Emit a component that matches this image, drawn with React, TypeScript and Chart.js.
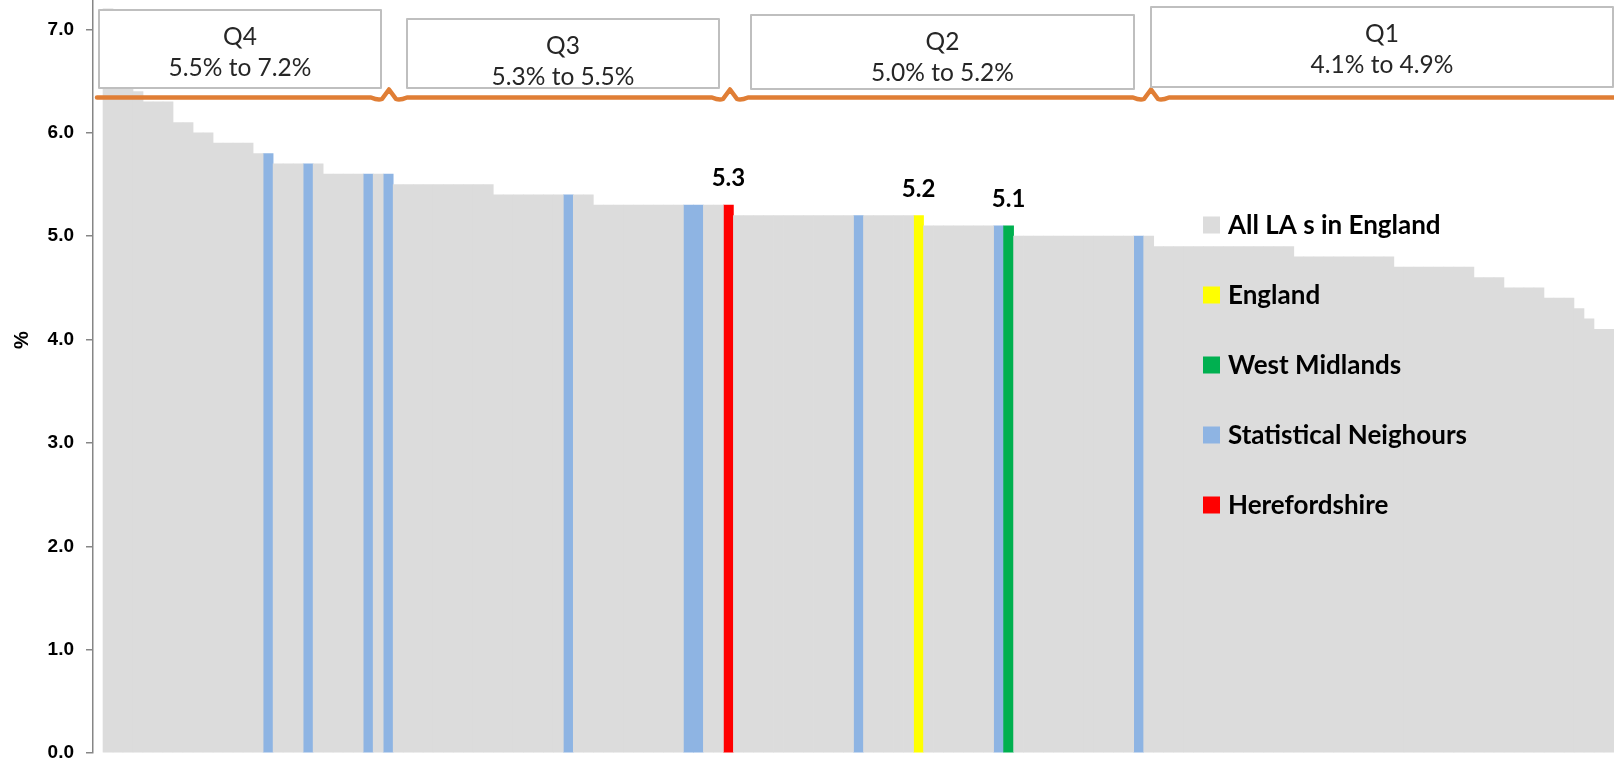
import React, { useEffect, useRef } from 'react';
import { Chart, registerables } from 'chart.js';

Chart.register(...registerables);

// ---------- DATA ----------
// Rate (%) for every local authority in England, sorted high to low (rank 1 .. 151).
const laValues: number[] = [
  7.2, 6.7, 6.5, 6.4, 6.3, 6.3, 6.3, 6.1, 6.1, 6.0,
  6.0, 5.9, 5.9, 5.9, 5.9, 5.8, 5.8, 5.7, 5.7, 5.7,
  5.7, 5.7, 5.6, 5.6, 5.6, 5.6, 5.6, 5.6, 5.6, 5.5,
  5.5, 5.5, 5.5, 5.5, 5.5, 5.5, 5.5, 5.5, 5.5, 5.4,
  5.4, 5.4, 5.4, 5.4, 5.4, 5.4, 5.4, 5.4, 5.4, 5.3,
  5.3, 5.3, 5.3, 5.3, 5.3, 5.3, 5.3, 5.3, 5.3, 5.3,
  5.3, 5.3, 5.3, 5.2, 5.2, 5.2, 5.2, 5.2, 5.2, 5.2,
  5.2, 5.2, 5.2, 5.2, 5.2, 5.2, 5.2, 5.2, 5.2, 5.2,
  5.2, 5.2, 5.1, 5.1, 5.1, 5.1, 5.1, 5.1, 5.1, 5.1,
  5.1, 5.0, 5.0, 5.0, 5.0, 5.0, 5.0, 5.0, 5.0, 5.0,
  5.0, 5.0, 5.0, 5.0, 5.0, 4.9, 4.9, 4.9, 4.9, 4.9,
  4.9, 4.9, 4.9, 4.9, 4.9, 4.9, 4.9, 4.9, 4.9, 4.8,
  4.8, 4.8, 4.8, 4.8, 4.8, 4.8, 4.8, 4.8, 4.8, 4.7,
  4.7, 4.7, 4.7, 4.7, 4.7, 4.7, 4.7, 4.6, 4.6, 4.6,
  4.5, 4.5, 4.5, 4.5, 4.4, 4.4, 4.4, 4.3, 4.2, 4.1,
  4.1,
];

// Ranks (1-based position in laValues) of highlighted bars
const statNeighbourRanks: number[] = [17, 21, 27, 29, 47, 59, 60, 76, 90, 104];
const englandRanks: number[] = [82];
const westMidlandsRanks: number[] = [91];
const herefordshireRanks: number[] = [63];

const seriesNames: string[] = [
  'All LA s in England',
  'England',
  'West Midlands',
  'Statistical Neighours',
  'Herefordshire',
];

const quartileNames: string[] = ['Q4', 'Q3', 'Q2', 'Q1'];
const quartileRanges: string[] = ['5.5% to 7.2%', '5.3% to 5.5%', '5.0% to 5.2%', '4.1% to 4.9%'];

const yTicks: number[] = [0, 1, 2, 3, 4, 5, 6, 7];

// ---------- STYLE / LAYOUT ----------
const COLORS = ['#DCDCDC', '#FFFF00', '#00B050', '#8EB4E3', '#FF0000'];
const LABELLED = [1, 2, 4]; // datasets showing value labels
const BOXES = [
  { x: 99, y: 10, w: 282, h: 78 },
  { x: 407, y: 19, w: 312, h: 69 },
  { x: 751, y: 15, w: 383, h: 74 },
  { x: 1151, y: 7, w: 462, h: 80 },
];
const BUMPS = [389, 730, 1151];
const FONT = '"Lato", "Open Sans", sans-serif';
const AXFONT = '"Liberation Sans", Arial, sans-serif';

// table for the library: a leading blank category, then every LA
const labels: string[] = [''].concat(laValues.map((_, i) => String(i + 1)));
const allData: (number | null)[] = [null as number | null].concat(laValues);
const highlighted = [...statNeighbourRanks, ...englandRanks, ...westMidlandsRanks, ...herefordshireRanks];
const pick = (ranks: number[]) => allData.map((v, i) => (ranks.includes(i) ? v : null));
const grayData = allData.map((v, i) => (highlighted.includes(i) ? null : v));

const overlay = {
  id: 'overlay',
  afterDatasetsDraw(chart: any) {
    const ctx: CanvasRenderingContext2D = chart.ctx;
    ctx.save();

    // value labels
    LABELLED.forEach((di) => {
      const meta = chart.getDatasetMeta(di);
      const data = chart.data.datasets[di].data;
      meta.data.forEach((el: any, i: number) => {
        const v = data[i];
        if (v == null) return;
        ctx.font = `bold 24px ${FONT}`;
        ctx.fillStyle = '#000';
        ctx.textAlign = 'center';
        ctx.textBaseline = 'alphabetic';
        ctx.fillText(Number(v).toFixed(1), el.x, el.y - 19);
      });
    });

    // orange bracket line
    const ly = 97.5;
    ctx.strokeStyle = '#E07E35';
    ctx.lineWidth = 4.5;
    ctx.lineJoin = 'round';
    ctx.lineCap = 'round';
    ctx.beginPath();
    ctx.moveTo(97, ly);
    BUMPS.forEach((px) => {
      ctx.lineTo(px - 18, ly);
      ctx.quadraticCurveTo(px - 11, ly + 3, px - 7, ly + 1.5);
      ctx.lineTo(px, ly - 8);
      ctx.lineTo(px + 7, ly + 1.5);
      ctx.quadraticCurveTo(px + 11, ly + 3, px + 18, ly);
    });
    ctx.lineTo(1620, ly);
    ctx.stroke();

    // quartile boxes
    BOXES.forEach((b, i) => {
      ctx.fillStyle = '#FFFFFF';
      ctx.fillRect(b.x, b.y, b.w, b.h);
      ctx.strokeStyle = '#BFBFBF';
      ctx.lineWidth = 2;
      ctx.strokeRect(b.x, b.y, b.w, b.h);
      ctx.fillStyle = '#262626';
      ctx.font = `24.5px ${FONT}`;
      ctx.textAlign = 'center';
      ctx.textBaseline = 'middle';
      const cx = b.x + b.w / 2;
      ctx.fillText(quartileNames[i], cx, b.y + 27);
      ctx.fillText(quartileRanges[i], cx, b.y + 58.5);
    });

    // legend
    chart.data.datasets.forEach((ds: any, i: number) => {
      const cy = 225 + i * 70;
      ctx.fillStyle = ds.backgroundColor;
      ctx.fillRect(1203, cy - 8.5, 17, 17);
      ctx.fillStyle = '#000';
      ctx.font = `bold 26px ${FONT}`;
      ctx.textAlign = 'left';
      ctx.textBaseline = 'middle';
      ctx.fillText(ds.label, 1228, cy + 1);
    });

    // y axis title
    ctx.save();
    ctx.translate(22, 340);
    ctx.rotate(-Math.PI / 2);
    ctx.font = `bold 20px ${AXFONT}`;
    ctx.fillStyle = '#000';
    ctx.textAlign = 'center';
    ctx.textBaseline = 'middle';
    ctx.fillText('%', 0, 0);
    ctx.restore();

    ctx.restore();
  },
};

export default function App() {
  const ref = useRef<HTMLCanvasElement | null>(null);

  useEffect(() => {
    if (!ref.current) return;
    const base = {
      barPercentage: 1,
      categoryPercentage: 1,
      grouped: false,
      borderWidth: 0,
    };
    const chart = new Chart(ref.current, {
      type: 'bar',
      data: {
        labels,
        datasets: [
          { ...base, label: seriesNames[0], data: grayData, backgroundColor: COLORS[0] },
          { ...base, label: seriesNames[1], data: pick(englandRanks), backgroundColor: COLORS[1] },
          { ...base, label: seriesNames[2], data: pick(westMidlandsRanks), backgroundColor: COLORS[2] },
          { ...base, label: seriesNames[3], data: pick(statNeighbourRanks), backgroundColor: COLORS[3] },
          { ...base, label: seriesNames[4], data: pick(herefordshireRanks), backgroundColor: COLORS[4] },
        ],
      },
      options: {
        responsive: false,
        animation: false,
        events: [],
        layout: { padding: { top: 0, right: 0, bottom: 8, left: 0 } },
        plugins: { legend: { display: false }, tooltip: { enabled: false } },
        scales: {
          x: { display: false },
          y: {
            min: 0,
            max: 7.285,
            afterFit: (s: any) => {
              s.width = 93;
              s.paddingTop = 0;
              s.paddingBottom = 0;
            },
            afterBuildTicks: (s: any) => { s.ticks = yTicks.map((v) => ({ value: v })); },
            border: { display: true, color: '#868686', width: 1.5 },
            grid: { drawOnChartArea: false, drawTicks: true, tickLength: 7, color: '#868686', lineWidth: 1.5 },
            ticks: {
              padding: 12,
              color: '#000',
              font: { family: AXFONT, size: 19, weight: 'bold' },
              callback: (v: any) => Number(v).toFixed(1),
            },
          },
        },
      },
      plugins: [overlay],
    } as any);
    return () => chart.destroy();
  }, []);

  return (
    <div style={{ position: 'absolute', left: 0, top: 0, width: 1614, height: 761, overflow: 'hidden', background: '#fff' }}>
      <canvas ref={ref} width={1614} height={761} style={{ display: 'block' }} />
    </div>
  );
}
